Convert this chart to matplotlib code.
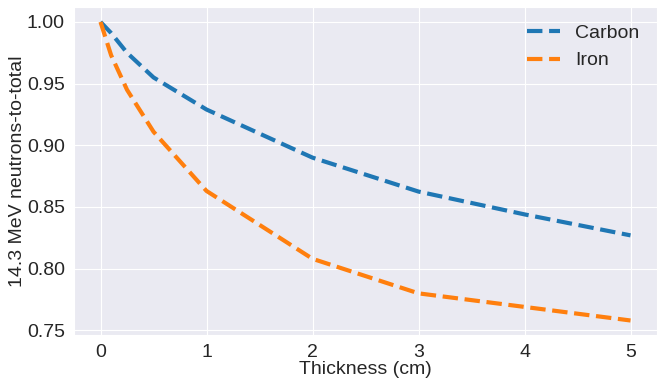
import matplotlib
matplotlib.use("Agg")
import matplotlib.pyplot as plt
import seaborn as sns

thickness = [0, 0.1, 0.25, 0.5, 1, 2, 3, 4, 5]
carbon = [1.000, 0.991, 0.975, 0.955, 0.929, 0.890, 0.8625, 0.844, 0.827]
iron = [1.000, 0.973, 0.945, 0.911, 0.863, 0.808, 0.780, 0.769, 0.758]

sns.set_style("darkgrid")
plt.rcParams["font.family"] = ["Liberation Sans", "DejaVu Sans"]

fig, ax = plt.subplots(figsize=(6.58, 3.79), dpi=100)
ax.plot(thickness, carbon, "--", color="#1f77b4", linewidth=3, label="Carbon")
ax.plot(thickness, iron, "--", color="#ff7f0e", linewidth=3, label="Iron")

ax.set_xlabel("Thickness (cm)", fontsize=14, labelpad=0)
ax.set_ylabel("14.3 MeV neutrons-to-total", fontsize=14, labelpad=1)
ax.tick_params(axis="both", labelsize=14)
ax.tick_params(axis="y", pad=3)
ax.tick_params(axis="x", pad=3)
ax.set_yticks([0.75, 0.80, 0.85, 0.90, 0.95, 1.00])
ax.legend(frameon=False, fontsize=14, loc="upper right", handlelength=1.7)

fig.subplots_adjust(left=0.1125, right=0.9985, top=0.9815, bottom=0.115)
fig.savefig("out.png", dpi=100)
